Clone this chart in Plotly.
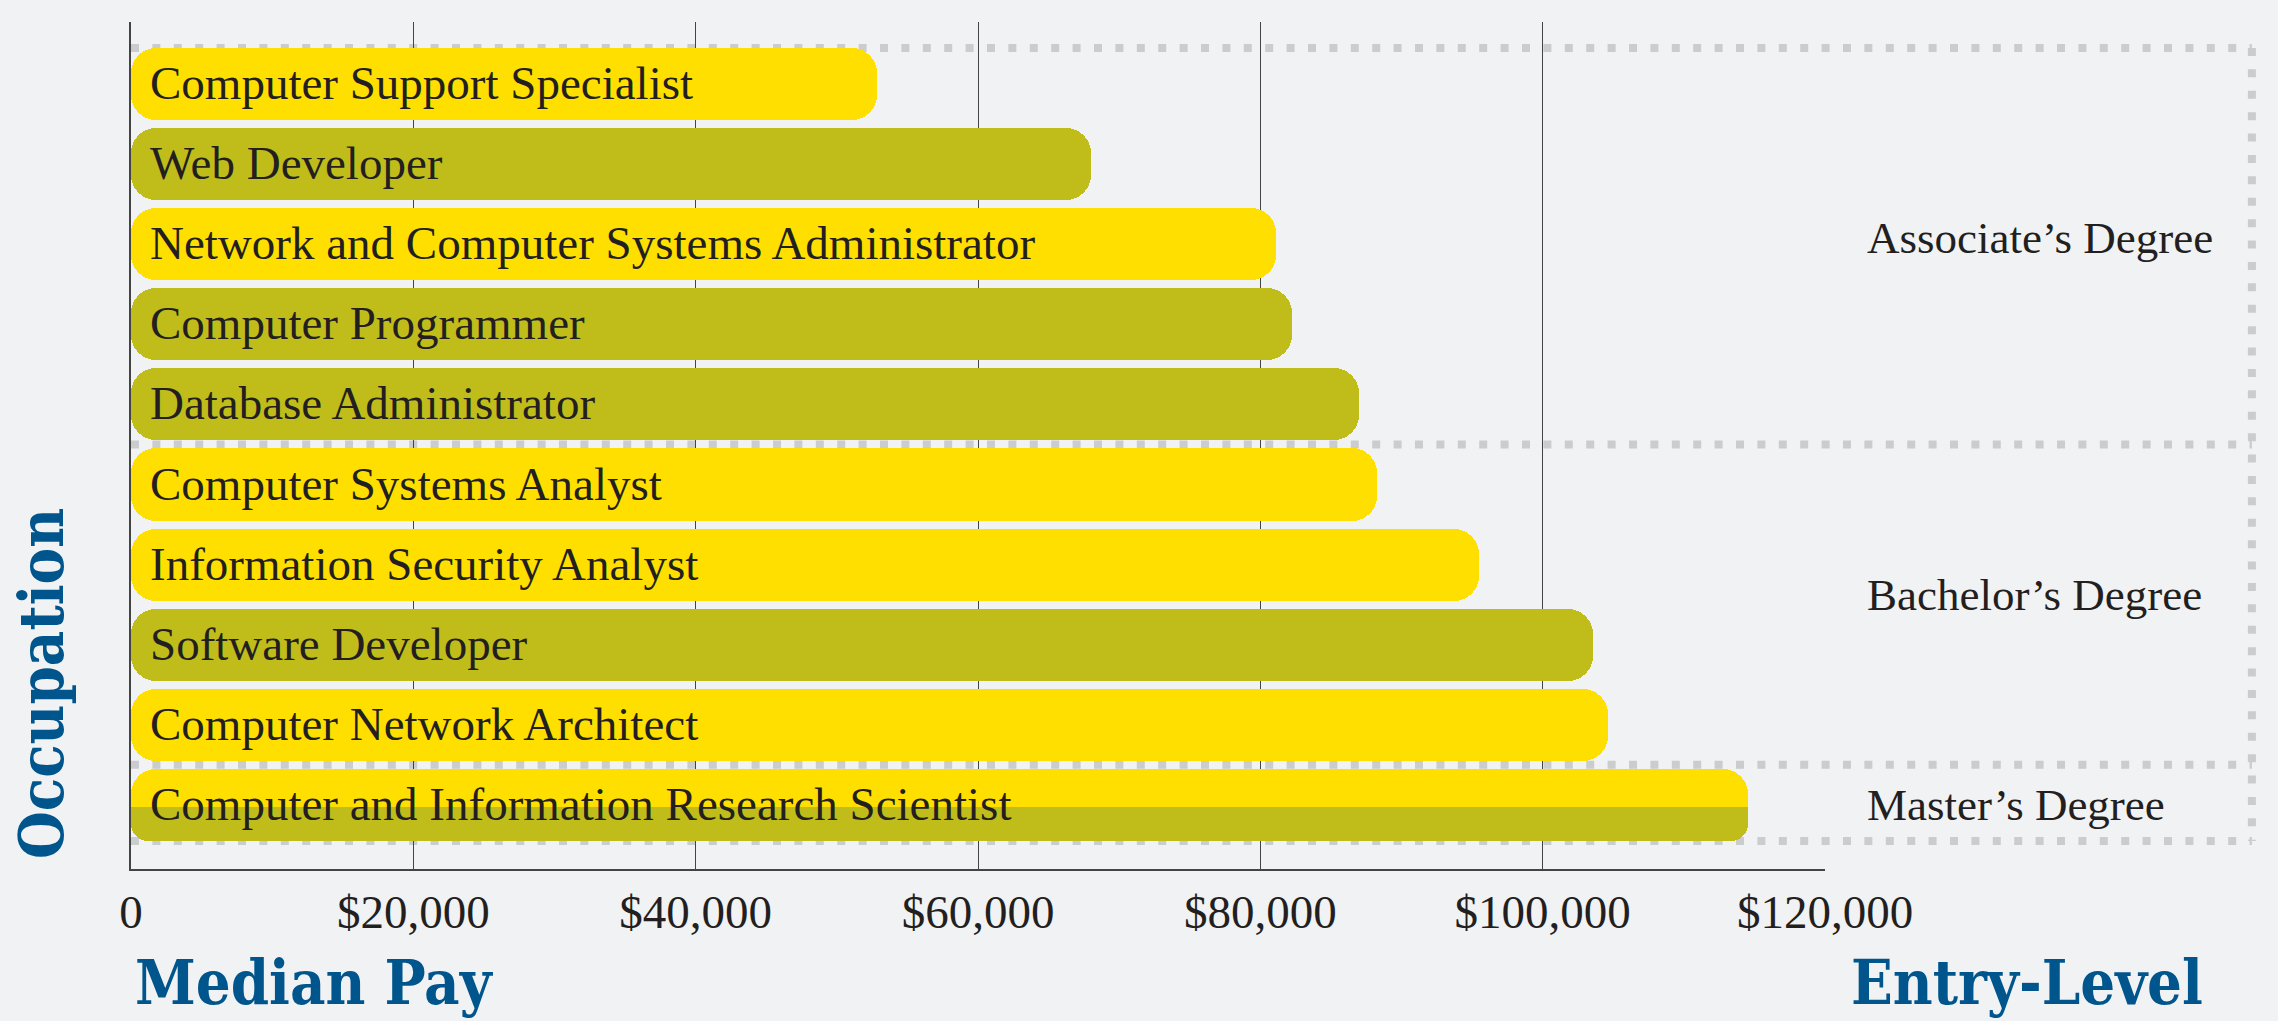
import plotly.graph_objects as go

# ---------------- data ----------------
occupations = [
    "Computer Support Specialist",
    "Web Developer",
    "Network and Computer Systems Administrator",
    "Computer Programmer",
    "Database Administrator",
    "Computer Systems Analyst",
    "Information Security Analyst",
    "Software Developer",
    "Computer Network Architect",
    "Computer and Information Research Scientist",
]
median_pay = [52810, 67990, 81100, 82240, 87020, 88270, 95510, 103560, 104650, 114520]

degree_labels = ["Associate’s Degree", "Bachelor’s Degree", "Master’s Degree"]
# first / last occupation of each degree group
degree_first = ["Computer Support Specialist", "Computer Systems Analyst",
                "Computer and Information Research Scientist"]
degree_last = ["Database Administrator", "Computer Network Architect",
               "Computer and Information Research Scientist"]

tick_values = [0, 20000, 40000, 60000, 80000, 100000, 120000]
tick_labels = ["0", "$20,000", "$40,000", "$60,000", "$80,000", "$100,000", "$120,000"]

x_title = "Median Pay"
right_title = "Entry-Level"
y_title = "Occupation"

# ---------------- style ----------------
YELLOW = "#FFDF00"
OLIVE = "#C0BD1B"
BG = "#F1F2F4"
DOT = "#CBCCCE"
GRID = "#444444"
TEXT = "#231F20"
BLUE = "#00568C"
LABEL_FONT = "Liberation Serif"
TITLE_FONT = "DejaVu Serif Condensed, DejaVu Serif"

bar_fill = [YELLOW, OLIVE, YELLOW, OLIVE, OLIVE, YELLOW, YELLOW, OLIVE, YELLOW, YELLOW]
split_index = 9          # this bar has an olive lower half
BAR_W = 0.9
RADIUS = 25

fig = go.Figure()

# right-rounded halves
fig.add_trace(go.Bar(
    y=occupations, x=[v * 0.6 for v in median_pay], base=[v * 0.4 for v in median_pay],
    orientation="h", width=BAR_W, marker=dict(color=bar_fill, cornerradius=RADIUS, line=dict(width=0)),
    hoverinfo="skip", showlegend=False))
# left-rounded halves
fig.add_trace(go.Bar(
    y=occupations, x=[-v * 0.6 for v in median_pay], base=[v * 0.6 for v in median_pay],
    orientation="h", width=BAR_W, marker=dict(color=bar_fill, cornerradius=RADIUS, line=dict(width=0)),
    hoverinfo="skip", showlegend=False))

# olive lower half of the split bar
sv = median_pay[split_index]
sy = [occupations[split_index]]
fig.add_trace(go.Bar(
    y=sy, x=[sv * 0.6], base=[sv * 0.4], orientation="h", offset=0.03, width=0.42,
    marker=dict(color=OLIVE, cornerradius=18, line=dict(width=0)), hoverinfo="skip", showlegend=False))
fig.add_trace(go.Bar(
    y=sy, x=[-sv * 0.6], base=[sv * 0.6], orientation="h", offset=0.03, width=0.42,
    marker=dict(color=OLIVE, cornerradius=18, line=dict(width=0)), hoverinfo="skip", showlegend=False))
fig.add_trace(go.Bar(
    y=sy, x=[sv], base=[0], orientation="h", offset=0.03, width=0.2,
    marker=dict(color=OLIVE, cornerradius=0, line=dict(width=0)), hoverinfo="skip", showlegend=False))

annotations = []
for occ in occupations:
    annotations.append(dict(
        x=0, y=occ, xref="x", yref="y", text=occ, showarrow=False, xanchor="left",
        yanchor="middle", xshift=17, yshift=1, font=dict(family=LABEL_FONT, size=47, color=TEXT)))

# degree group boxes (dotted)
shapes = []
idx = {o: i for i, o in enumerate(occupations)}
box_lines = [idx[degree_first[0]] - 0.45]
for i in range(len(degree_labels)):
    box_lines.append(idx[degree_last[i]] + (0.5 if i < len(degree_labels) - 1 else 0.45))
DOTX = 1.252
dot_line = dict(color=DOT, width=8, dash="8px,13.4px")
for yv in box_lines:
    shapes.append(dict(type="line", xref="paper", yref="y", x0=0, x1=DOTX, y0=yv, y1=yv,
                       line=dot_line, layer="below"))
shapes.append(dict(type="line", xref="paper", yref="y", x0=DOTX, x1=DOTX,
                   y0=box_lines[0], y1=box_lines[-1], line=dot_line, layer="below"))

label_y = [1.92, 6.38, 9.0]
for lab, yv in zip(degree_labels, label_y):
    annotations.append(dict(x=1.0236, y=yv, xref="paper", yref="y", text=lab, showarrow=False,
                            xanchor="left", yanchor="middle",
                            font=dict(family=LABEL_FONT, size=45, color=TEXT)))

title_font = dict(family=TITLE_FONT, size=61, color=BLUE, weight="bold")
annotations.append(dict(x=0.001, y=-0.178, xref="paper", yref="paper", text=x_title,
                        showarrow=False, xanchor="left", yanchor="bottom", font=title_font))
annotations.append(dict(x=1.2245, y=-0.178, xref="paper", yref="paper", text=right_title,
                        showarrow=False, xanchor="right", yanchor="bottom", font=title_font))
annotations.append(dict(x=-0.0531, y=0.2184, xref="paper", yref="paper", text=y_title,
                        showarrow=False, xanchor="center", yanchor="middle", textangle=-90,
                        font=title_font))

fig.update_layout(
    width=2278, height=1021,
    margin=dict(l=131, r=453, t=22, b=152),
    paper_bgcolor=BG, plot_bgcolor=BG,
    barmode="overlay", bargap=0,
    shapes=shapes, annotations=annotations,
    xaxis=dict(range=[0, 120000], tickvals=tick_values, ticktext=tick_labels,
               showgrid=True, gridcolor=GRID, gridwidth=1.2, zeroline=False,
               showline=True, linecolor=GRID, linewidth=1.5, ticks="",
               ticklabelstandoff=1,
               tickfont=dict(family=LABEL_FONT, size=47, color=TEXT)),
    yaxis=dict(type="category", categoryorder="array", categoryarray=occupations,
               range=[9.8, -0.774], showticklabels=False, showgrid=False, zeroline=False,
               showline=True, linecolor=GRID, linewidth=1.5, ticks=""),
)

fig.write_html("out.html", config={"displayModeBar": False},
               post_script="document.body.style.margin='0';")
